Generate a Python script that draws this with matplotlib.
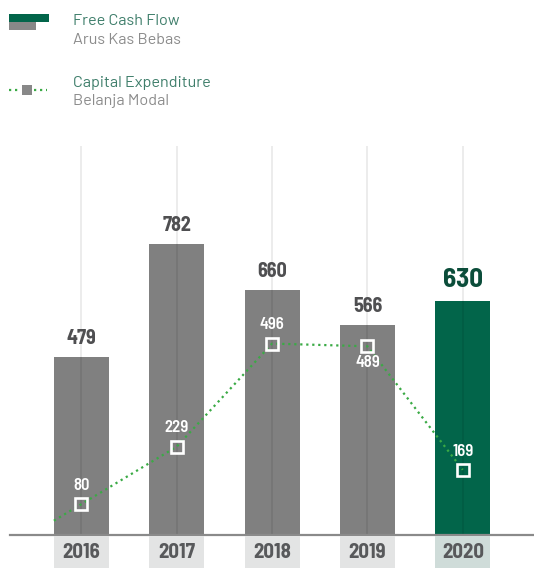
import matplotlib
matplotlib.use("Agg")
import matplotlib.pyplot as plt
from matplotlib.patches import Rectangle
from matplotlib.lines import Line2D
import numpy as np

# ---- data ----
years = ["2016", "2017", "2018", "2019", "2020"]
free_cash_flow = [479, 782, 660, 566, 630]
capex = [80, 229, 496, 489, 169]
capex_label_pos = ["above", "above", "above", "below", "above"]
highlight = "2020"

legend_title_1 = "Free Cash Flow"
legend_sub_1 = "Arus Kas Bebas"
legend_title_2 = "Capital Expenditure"
legend_sub_2 = "Belanja Modal"

# ---- style ----
W, H = 534, 568
DPI = 100
BAR_GRAY = "#808080"
BAR_GREEN = "#02654a"
LINE_GREEN = "#3aaa45"
LABEL_GRAY = "#4f4f51"
NARROW = ["Barlow Semi Condensed", "DejaVu Sans"]
LEG_FONT = ["Barlow", "DejaVu Sans"]

fig = plt.figure(figsize=(W / DPI, H / DPI), dpi=DPI)
fig.patch.set_facecolor("white")

def fx(x):
    return x / W

def fy(y):
    return 1 - y / H

base_px, top_px = 535, 146
xlim = (-0.8536, 4.747)
bar_w = 0.577

ax = fig.add_axes([0, fy(base_px), 1, (base_px - top_px) / H])
ax.set_xlim(*xlim)
ax.set_ylim(0, 1047)
ax.axis("off")

x = np.arange(len(years))
colors = [BAR_GREEN if y == highlight else BAR_GRAY for y in years]
ax.bar(x, free_cash_flow, width=bar_w, color=colors, zorder=2)

# vertical gridlines
for xi in x:
    ax.axvline(xi, color="black", alpha=0.09, lw=1.2, zorder=3)

# baseline
ax.axhline(0, xmin=10 / W, xmax=1, color="#8a8a8a", lw=1.6, zorder=4, clip_on=False)

# bar value labels
for xi, v, y in zip(x, free_cash_flow, years):
    big = (y == highlight)
    ax.annotate(str(v), (xi, v), xytext=(0, 6.5), textcoords="offset points",
                ha="center", va="bottom", fontsize=19.5 if big else 14.5, fontweight="bold",
                color="#0b4d3a" if big else LABEL_GRAY, family=NARROW, zorder=6)

# capex line on a secondary scale
ax2 = ax.twinx()
ax2.set_xlim(*xlim)
ax2.set_ylim(0, 1008)
ax2.axis("off")
# extend first segment back to the left edge of the first bar
x0 = x[0] - bar_w / 2
slope = (capex[1] - capex[0]) / (x[1] - x[0])
y0 = capex[0] - slope * (bar_w / 2)
lx = np.concatenate([[x0], x])
ly = np.concatenate([[y0], capex])
ax2.plot(lx, ly, linestyle=(0, (1, 1.7)), lw=1.6, color=LINE_GREEN, zorder=5)
ax2.plot(x, capex, linestyle="none", marker="s", markersize=9,
         markerfacecolor="none", markeredgecolor="white", markeredgewidth=1.9, zorder=6)
for xi, v, pos in zip(x, capex, capex_label_pos):
    dy = 13.5 if pos == "above" else -11.5
    ax2.annotate(str(v), (xi, v), xytext=(0, dy), textcoords="offset points",
                 ha="center", va="center", fontsize=12, fontweight="semibold",
                 color="white", family=NARROW, zorder=7)

# year label boxes
axb = fig.add_axes([0, 0, 1, fy(base_px + 1)])
axb.set_xlim(*xlim)
axb.set_ylim(0, 1)
axb.axis("off")
box_colors = ["#cfdcd9" if y == highlight else "#e3e4e4" for y in years]
axb.bar(x, [1] * len(x), width=bar_w, color=box_colors)
for xi, y in zip(x, years):
    axb.text(xi, 0.5, y, ha="center", va="center", fontsize=15, fontweight="bold",
             color="#58595b", family=NARROW)

# legend
fig.add_artist(Rectangle((fx(9), fy(21.7)), fx(40), 7.7 / H, transform=fig.transFigure,
                         color=BAR_GREEN, lw=0))
fig.add_artist(Rectangle((fx(9), fy(30)), fx(27), 8.3 / H, transform=fig.transFigure,
                         color="#888888", lw=0))
fig.add_artist(Line2D([fx(9), fx(20)], [fy(90), fy(90)], transform=fig.transFigure,
                      linestyle=(0, (1, 1.7)), lw=1.6, color=LINE_GREEN))
fig.add_artist(Line2D([fx(34), fx(47)], [fy(90), fy(90)], transform=fig.transFigure,
                      linestyle=(0, (1, 1.7)), lw=1.6, color=LINE_GREEN))
fig.add_artist(Rectangle((fx(22), fy(95)), fx(10), 9.5 / H, transform=fig.transFigure,
                         color="#888888", lw=0))

for txt, base, col in [(legend_title_1, 25, "#3f7e6b"), (legend_sub_1, 44, "#8c8c8c"),
                       (legend_title_2, 87, "#3f7e6b"), (legend_sub_2, 105.5, "#8c8c8c")]:
    fig.text(fx(73), fy(base), txt, fontsize=11.7, color=col, family=LEG_FONT,
             va="baseline", ha="left")

fig.savefig("out.png", dpi=DPI, facecolor="white")
